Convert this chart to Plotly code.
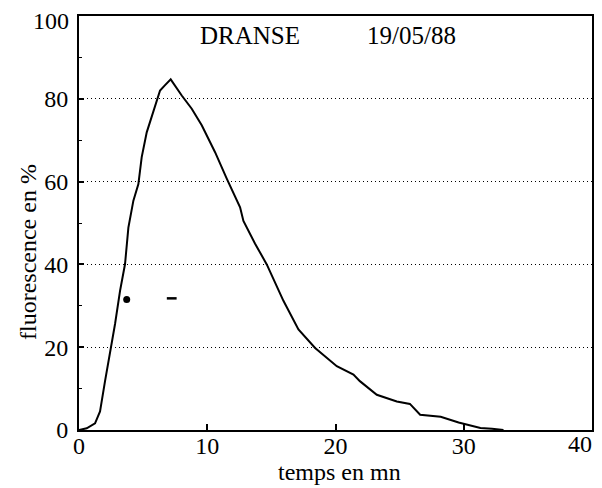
import plotly.graph_objects as go

# temps en mn / fluorescence en %
temps = [0.0, 0.6, 1.25, 1.64, 2.03, 2.42, 2.81, 3.20, 3.59, 3.85, 4.24, 4.63, 4.89,
         5.28, 5.80, 6.32, 6.71, 7.15, 8.01, 8.79, 9.57, 10.61, 11.52, 12.56, 12.82,
         13.73, 14.64, 15.94, 17.11, 18.41, 20.10, 21.40, 21.9, 23.22, 24.78, 25.8,
         26.6, 28.2, 29.6, 31.3, 32.2, 33.1]
fluo = [0.0, 0.4, 1.6, 4.5, 11.8, 18.3, 25.6, 33.6, 40.1, 48.9, 55.4, 59.4, 65.9,
        71.9, 77.2, 82.0, 83.3, 84.7, 80.8, 77.6, 73.6, 67.1, 60.7, 53.8, 50.5,
        45.0, 40.0, 31.2, 24.3, 19.8, 15.4, 13.4, 11.8, 8.5, 6.9, 6.3,
        3.7, 3.2, 1.8, 0.5, 0.3, 0.0]

# stray marks on the scanned sheet
mark_x = [3.72, 7.23]
mark_y = [31.5, 31.8]

x_ticks = [0, 10, 20, 30, 40]
x_labels = ["0", "10", "20", "30", ""]      # "40" drawn as annotation (edge)
y_ticks = [0, 20, 40, 60, 80, 100]
y_labels = ["0", "20", "40", "60", "80", ""]  # "100" drawn as annotation (edge)
station = "DRANSE"
date = "19/05/88"

FONT = "Times New Roman, Liberation Serif, DejaVu Serif, serif"

fig = go.Figure()
fig.add_trace(go.Scatter(x=temps, y=fluo, mode="lines",
                         line=dict(color="black", width=2), showlegend=False,
                         hoverinfo="skip"))
fig.add_trace(go.Scatter(x=mark_x[:1], y=mark_y[:1], mode="markers",
                         marker=dict(symbol="circle", size=7, color="black"),
                         showlegend=False))
fig.add_trace(go.Scatter(x=mark_x[1:], y=mark_y[1:], mode="markers",
                         marker=dict(symbol="line-ew", size=7,
                                     line=dict(color="black", width=2.5)),
                         showlegend=False))

fig.update_layout(
    width=594, height=480,
    margin=dict(l=71, r=10, t=8, b=58, autoexpand=False),
    paper_bgcolor="white", plot_bgcolor="white",
    font=dict(family=FONT, size=24, color="black"),
    xaxis=dict(range=[0, 40], tickvals=x_ticks, ticktext=x_labels,
               ticks="inside", ticklen=6,
               tickwidth=1.5, tickcolor="black", showline=True, mirror=True,
               linewidth=2, linecolor="black", showgrid=False, zeroline=False,
               automargin=False, ticklabeloverflow="allow",
               ticklabelstandoff=-7,
               tickfont=dict(family=FONT, size=24)),
    yaxis=dict(range=[0, 100], tickvals=y_ticks, ticktext=y_labels,
               ticks="inside", ticklen=5,
               tickwidth=1.5, tickcolor="black", showline=True, mirror=True,
               linewidth=2, linecolor="black", showgrid=True,
               gridcolor="black", gridwidth=1, griddash="1px,3px",
               zeroline=False, automargin=False, ticklabeloverflow="allow",
               ticklabelstandoff=4,
               tickfont=dict(family=FONT, size=24),
               minor=dict(tickvals=[10, 30, 50, 70, 90], ticks="inside",
                          ticklen=3, tickwidth=1, tickcolor="black",
                          showgrid=False)),
    annotations=[
        dict(text=str(x_ticks[-1]), x=x_ticks[-1], y=0, xref="x", yref="y",
             showarrow=False, xanchor="center", yanchor="middle",
             xshift=-12, yshift=-14, font=dict(family=FONT, size=24)),
        dict(text=str(y_ticks[-1]), x=0, y=y_ticks[-1], xref="x", yref="y",
             showarrow=False, xanchor="right", yanchor="middle",
             xshift=-8, yshift=-5, font=dict(family=FONT, size=24)),
        dict(text=station, x=13.3, y=95.2, xref="x", yref="y", showarrow=False,
             font=dict(family=FONT, size=25)),
        dict(text=date, x=25.9, y=95.2, xref="x", yref="y", showarrow=False,
             font=dict(family=FONT, size=25)),
        dict(text="temps en mn", x=0.507, y=-0.101, xref="paper", yref="paper",
             showarrow=False, yanchor="middle", xanchor="center",
             font=dict(family=FONT, size=24)),
        dict(text="fluorescence en %", x=-0.0994, y=0.43, xref="paper",
             yref="paper", showarrow=False, textangle=-90,
             xanchor="center", yanchor="middle",
             font=dict(family=FONT, size=24)),
    ],
)

fig.write_html("out.html")
